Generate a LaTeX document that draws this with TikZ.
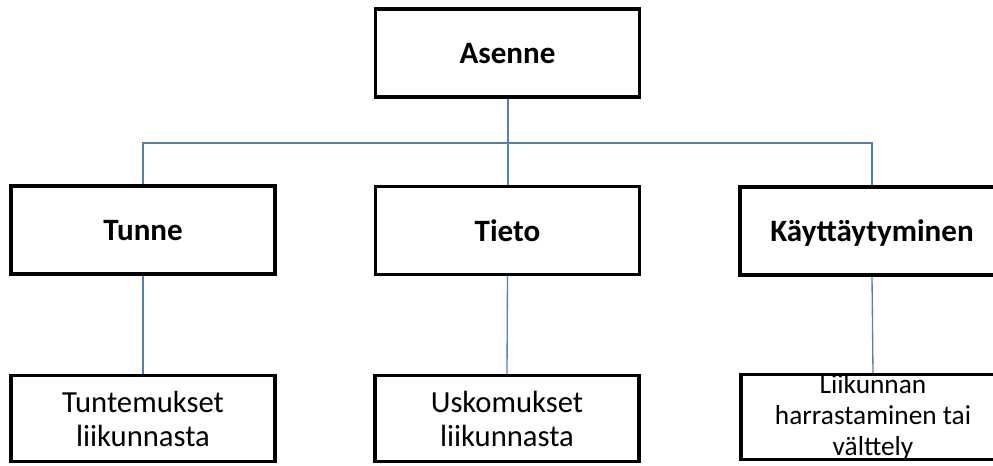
\documentclass[tikz,border=0pt]{standalone}
\usepackage{fontspec}
\setmainfont{Carlito}
\begin{document}
\begin{tikzpicture}[x=0.75pt,y=-0.75pt,
  box/.style={draw=black, line width=2.3pt, fill=white, rectangle, minimum width=198pt, minimum height=66pt, inner sep=0pt},
  topbox/.style={box, text height=17pt, text depth=0.5pt, font=\fontsize{23.3}{26}\selectfont\bfseries},
  lowbox/.style={box, align=center, minimum height=64pt, font=\fontsize{23}{25.5}\selectfont},
  smallbox/.style={box, align=center, minimum height=64pt, font=\fontsize{20.5}{23.25}\selectfont},
  conn/.style={draw=conblue, line width=1.5pt},
  thinconn/.style={draw=conblue, line width=1pt}]
\definecolor{conblue}{RGB}{79,129,189}
\useasboundingbox (0,0) rectangle (993,466);
\clip (0,0) rectangle (993,466);
\node[topbox] (asenne) at (507.5,53) {Asenne};
\node[topbox] (tunne) at (143,230) {Tunne};
\node[topbox] (tieto) at (507.5,230.5) {Tieto};
\node[topbox] (kay) at (872,231) {Käyttäytyminen};
\node[lowbox] (tunt) at (143,418.5) {Tuntemukset\\liikunnasta};
\node[lowbox] (usko) at (507,418.5) {Uskomukset\\liikunnasta};
\node[smallbox] (liik) at (873,417) {Liikunnan\\harrastaminen tai\\välttely};
\coordinate (hub) at (507.5,143);
\draw[conn] (asenne.south) -- (tieto.north);
\draw[conn] (tunne.north) |- (hub) -| (kay.north);
\draw[thinconn] (tunne.south) -- (tunt.north);
\draw[thinconn] (tieto.south) -- (usko.north);
\draw[thinconn] (kay.south) -- (liik.north);
\end{tikzpicture}
\end{document}
